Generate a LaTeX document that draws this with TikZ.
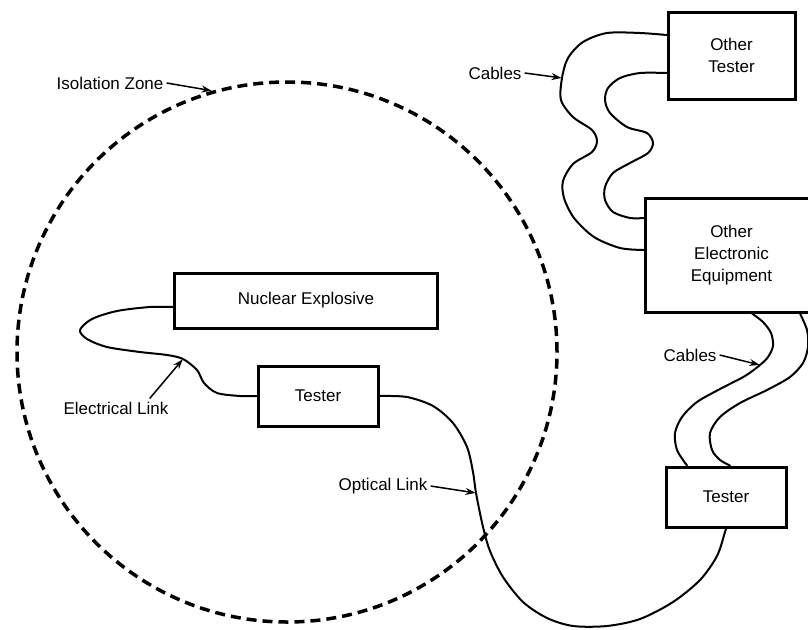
\documentclass[tikz,border=0pt]{standalone}
\usepackage{fontspec}
\setmainfont{Liberation Sans}
\usetikzlibrary{arrows.meta}

\begin{document}
\begin{tikzpicture}[x=1pt,y=-1pt,
        every node/.style={font=\fontsize{17}{22}\selectfont},
        box/.style={draw,line width=3pt,align=center,inner sep=2pt},
        zone/.style={draw,circle,inner sep=0pt,line width=3.5pt,dash pattern=on 10pt off 6pt},
        cable/.style={line width=2pt,line cap=round,line join=round},
        callout/.style={line width=1.5pt,shorten >=0.5pt,-{Stealth[length=10pt,width=7pt]}},
        tag/.style={inner sep=3pt}]
        \useasboundingbox (0,0) rectangle (808,629);
        % isolation zone
        \node[zone,minimum size=540pt] (zone) at (287,352) {};
        % boxes
        \node[box,minimum width=263pt,minimum height=55pt] (explosive) at (306,300.5) {Nuclear Explosive};
        \node[box,minimum width=120pt,minimum height=60pt] (tester) at (318,396) {Tester};
        \node[box,minimum width=127pt,minimum height=87pt] (othertester) at (731.5,55.5) {Other\\Tester};
        \node[box,minimum width=173pt,minimum height=114pt] (equipment) at (731.5,255) {Other\\Electronic\\Equipment};
        \node[box,minimum width=120pt,minimum height=60pt] (lowtester) at (726,497) {Tester};
        % points the callouts touch
        \coordinate (elmark) at (183,359);
        \coordinate (optmark) at (476,493);
        \coordinate (cabtop) at (562,78);
        \coordinate (cablow) at (760,365);
        % electrical link
        \draw[cable] plot[smooth] coordinates {([yshift=-6.5pt]explosive.west) (150,307) (117,311) (92,319) (80,330) (87,339) (107,347) (140,352) (167,355) (elmark) (197,370) (204,383) (217,393) (240,396) (tester.west)};
        % optical link
        \draw[cable] plot[smooth] coordinates {(tester.east) (407,397) (433,406) (453,423) (467,447) (473,472) (optmark) (483,527) (490,551) (503,577) (523,602) (547,618) (573,626) (607,626) (640,619) (673,602) (700,580) (717,556) (725,532) (lowtester.south)};
        % cables, other tester to equipment
        \draw[cable] plot[smooth] coordinates {([yshift=20.5pt]othertester.west) (640,33) (607,33) (583,42) (568,58) (cabtop) (561,100) (573,117) (592,130) (597,141) (592,152) (573,164) (563,181) (564,198) (574,218) (594,237) (620,248) ([yshift=5pt]equipment.west)};
        \draw[cable] plot[smooth] coordinates {([yshift=-17.5pt]othertester.west) (640,73) (620,78) (608,88) (605,100) (610,113) (627,127) (647,133) (653,143) (648,153) (630,163) (613,173) (605,187) (605,200) (613,212) (630,218) ([yshift=37pt]equipment.west)};
        % cables, equipment to tester
        \draw[cable] plot[smooth] coordinates {([xshift=20.5pt]equipment.south) (763,322) (771,333) (773,346) (768,357) (cablow) (745,376) (720,389) (697,402) (682,417) (675,433) (677,450) ([xshift=-39pt]lowtester.north)};
        \draw[cable] plot[smooth] coordinates {([xshift=68.5pt]equipment.south) (807,330) (808,347) (803,363) (790,377) (767,390) (740,403) (720,417) (710,433) (712,450) (720,460) ([xshift=4pt]lowtester.north)};
        % labels
        \node[tag] (zonelabel) at (110,83) {Isolation Zone};
        \draw[callout] (zonelabel.east) -- (zone.106);
        \node[tag] (cablelabel) at (495,73) {Cables};
        \draw[callout] (cablelabel.east) -- (cabtop);
        \node[tag] (lowcablelabel) at (690,355) {Cables};
        \draw[callout] (lowcablelabel.east) -- (cablow);
        \node[tag] (opticallabel) at (383,486) {Optical Link};
        \draw[callout] (opticallabel.east) -- (optmark);
        \node[tag] (electricallabel) at (116,408) {Electrical Link};
        \draw[callout] ([xshift=-22pt]electricallabel.north east) -- (elmark);
    \end{tikzpicture}
\end{document}
